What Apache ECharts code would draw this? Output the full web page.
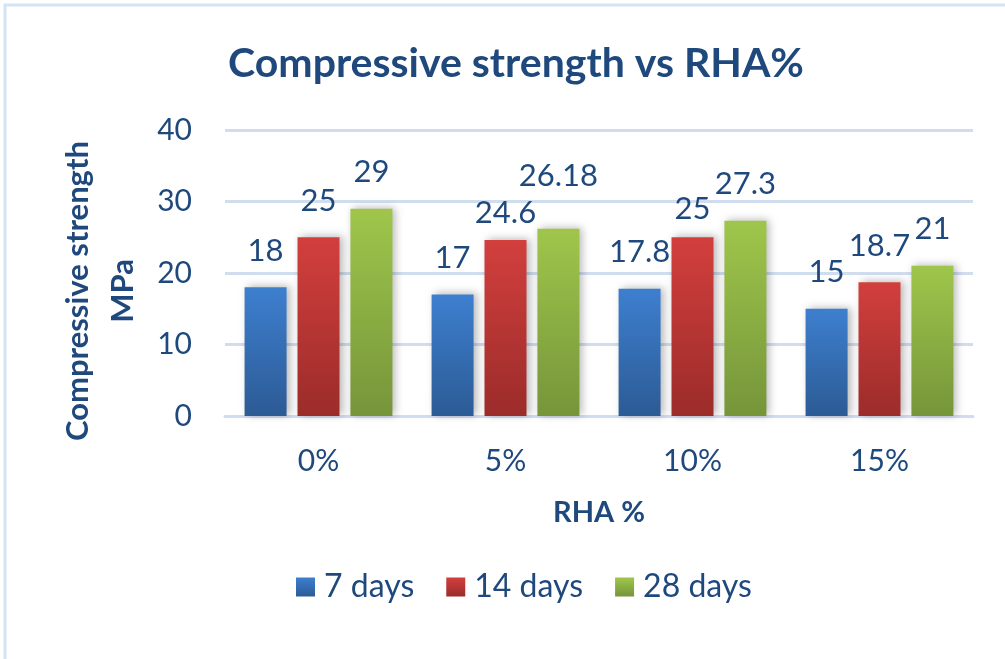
<!DOCTYPE html>
<html>
<head>
<meta charset="utf-8" />
<title>Compressive strength vs RHA%</title>
<script src="https://cdn.jsdelivr.net/npm/echarts@6/dist/echarts.min.js"></script>
<style>
  html, body { margin: 0; padding: 0; background: #fff; }
  #chart { width: 1005px; height: 659px; }
</style>
</head>
<body>
<div id="chart"></div>
<script>
// RHA replacement levels
const categories = ["0%", "5%", "10%", "15%"];
const seriesNames = ["7 days", "14 days", "28 days"];
// compressive strength, MPa
const days7 = [18, 17, 17.8, 15];
const days14 = [25, 24.6, 25, 18.7];
const days28 = [29, 26.18, 27.3, 21];
const yTicks = [0, 10, 20, 30, 40];

const textColor = "#1f497d";
const font = "Lato";

// top / bottom colours of each bar gradient
const barColors = [
  ["#3d7fcf", "#2c5b95"],
  ["#d23f3d", "#9b2c2a"],
  ["#9fc64b", "#76953a"],
];

// a few labels were dragged by hand in the original, nudge them (px, up is negative)
const labelNudge = [
  [0, 0, 0, 0],
  [0, 9, 8, 0],
  [0, -16, 0, 0],
];

function gradient(pair) {
  return new echarts.graphic.LinearGradient(0, 0, 0, 1, [
    { offset: 0, color: pair[0] },
    { offset: 1, color: pair[1] },
  ]);
}

const chart = echarts.init(document.getElementById("chart"));

const series = [days7, days14, days28].map((values, i) => ({
  name: seriesNames[i],
  type: "bar",
  data: values.map((v, j) => ({
    value: v,
    label: { offset: [0, labelNudge[i][j]] },
  })),
  barWidth: 42,
  barGap: "26%",
  itemStyle: {
    color: gradient(barColors[i]),
    shadowColor: "rgba(0, 0, 0, 0.28)",
    shadowBlur: 8,
    shadowOffsetX: 3,
    shadowOffsetY: -1,
  },
  label: {
    show: true,
    position: "top",
    distance: 21,
    color: textColor,
    fontFamily: font,
    fontSize: 31,
  },
}));

const option = {
  animation: false,
  title: {
    text: "Compressive strength vs RHA%",
    left: 511,
    top: 38,
    textAlign: "center",
    textStyle: {
      color: textColor,
      fontFamily: font,
      fontWeight: "bold",
      fontSize: 41,
    },
  },
  graphic: [
    {
      // chart area border
      type: "rect",
      shape: { x: 5, y: 5, width: 1100, height: 800 },
      style: { fill: "none", stroke: "#d5e2f3", lineWidth: 3 },
      silent: true,
    },
  ],
  legend: {
    data: seriesNames,
    left: 291,
    top: 566,
    itemWidth: 19,
    itemHeight: 19,
    itemGap: 32,
    icon: "rect",
    textStyle: {
      color: textColor,
      fontFamily: font,
      fontSize: 32,
      padding: [0, 0, 0, 4],
    },
  },
  grid: {
    left: 225,
    right: 32,
    top: 130,
    bottom: 243,
  },
  xAxis: {
    type: "category",
    data: categories,
    name: "RHA %",
    nameLocation: "middle",
    nameGap: 82,
    nameTextStyle: {
      color: textColor,
      fontFamily: font,
      fontWeight: "bold",
      fontSize: 29,
    },
    axisLine: { lineStyle: { color: "#d0ddef", width: 3 } },
    axisTick: { show: false },
    axisLabel: {
      color: textColor,
      fontFamily: font,
      fontSize: 30,
      margin: 30,
    },
  },
  yAxis: {
    type: "value",
    min: yTicks[0],
    max: yTicks[yTicks.length - 1],
    interval: yTicks[1] - yTicks[0],
    name: "Compressive strength\nMPa",
    nameLocation: "middle",
    nameRotate: 90,
    nameGap: 80,
    nameTextStyle: {
      color: textColor,
      fontFamily: font,
      fontWeight: "bold",
      fontSize: 31,
      lineHeight: 45,
      padding: [0, 36, 0, 0],
    },
    axisLine: { show: false },
    axisTick: { show: false },
    splitLine: { lineStyle: { color: "#d0ddef", width: 3 } },
    axisLabel: {
      color: textColor,
      fontFamily: font,
      fontSize: 30,
      margin: 33,
    },
  },
  series: series,
};

chart.setOption(option);
</script>
</body>
</html>
